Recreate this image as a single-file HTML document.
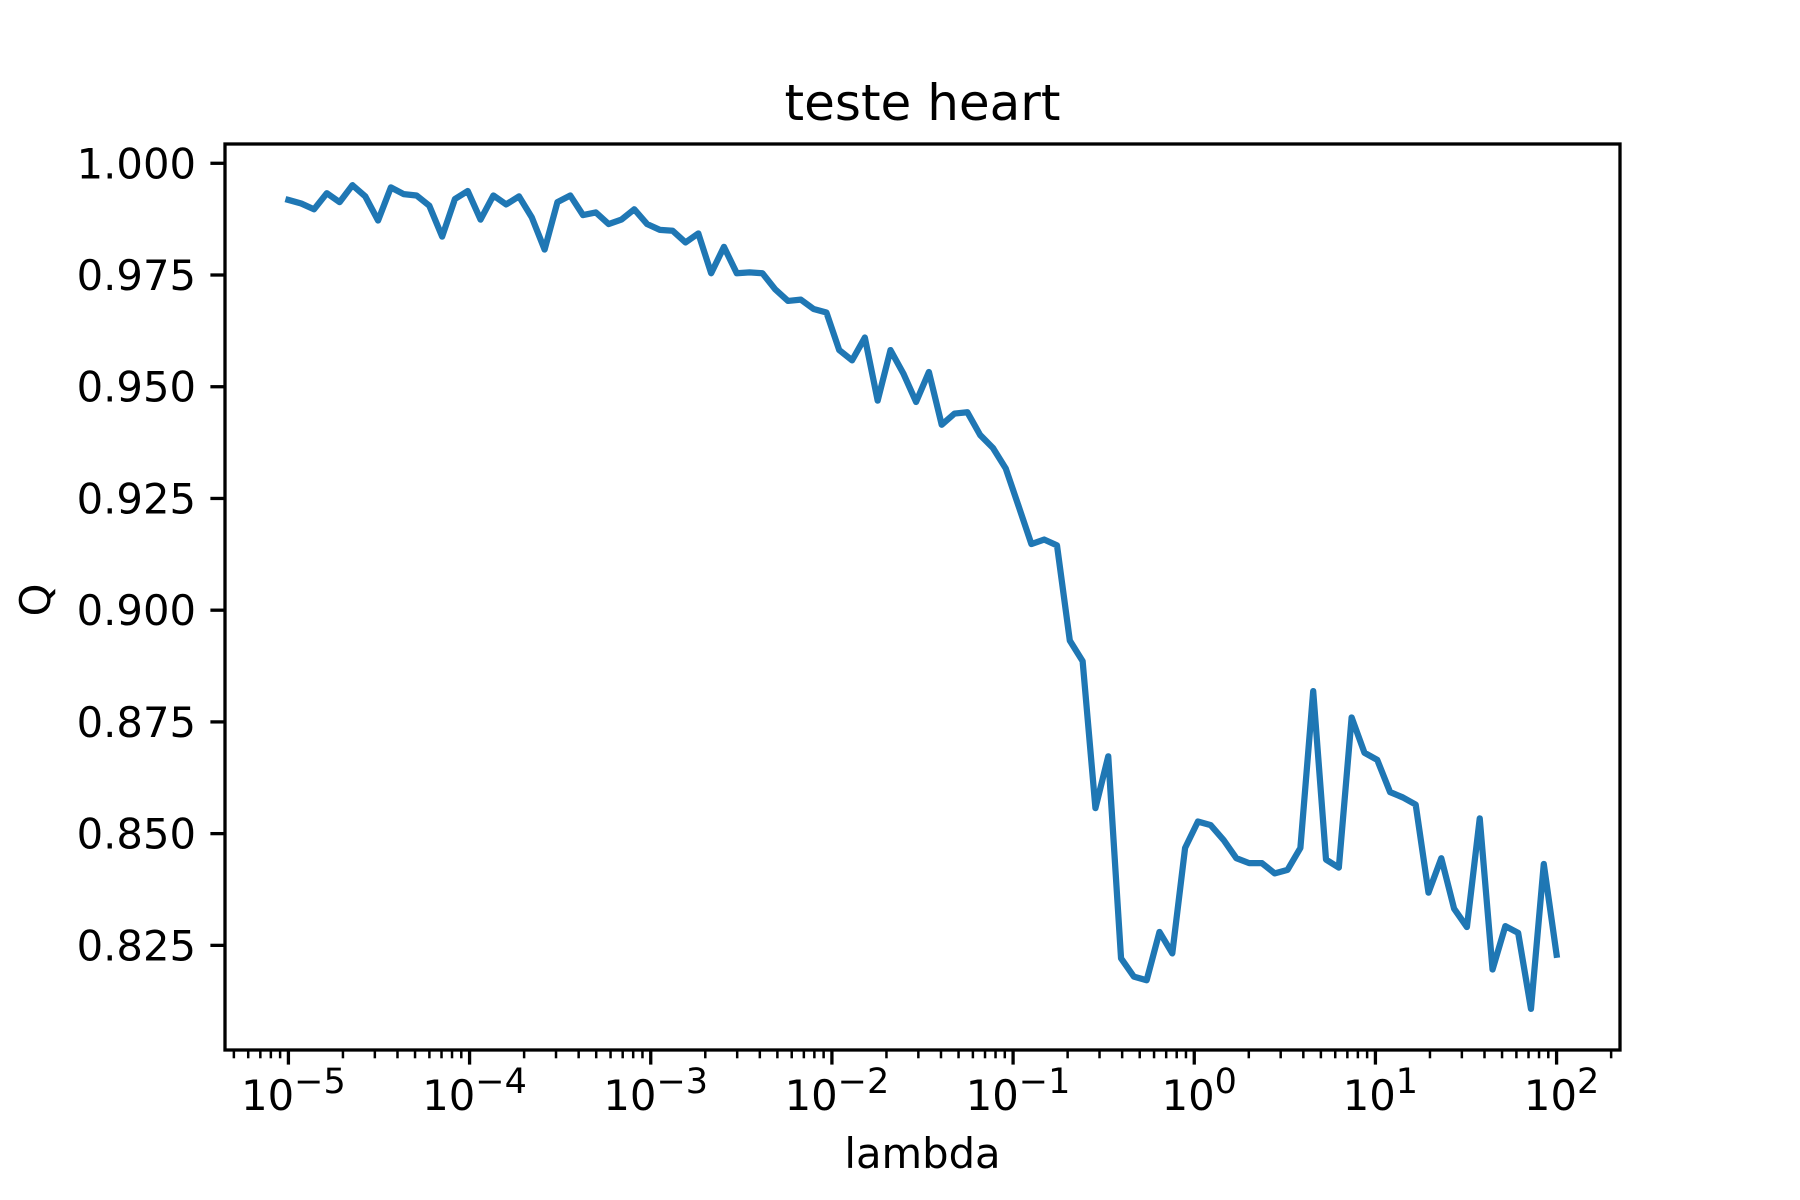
<!DOCTYPE html>
<html><head><meta charset="utf-8"><style>
html,body{margin:0;padding:0;background:#fff}
svg{display:block;font-family:"DejaVu Sans","Liberation Sans",sans-serif}
</style></head><body>
<svg id="chart" width="1800" height="1200" viewBox="0 0 1800 1200">
<rect width="1800" height="1200" fill="#fff"/>
<text x="922.5" y="120" font-size="50" text-anchor="middle">teste heart</text>
<g id="ticks"></g>
<path id="series" fill="none" stroke="#1f77b4" stroke-width="6.25" stroke-linejoin="round" stroke-linecap="square"/>
<rect x="225" y="144" width="1395" height="906" fill="none" stroke="#000" stroke-width="3.3"/>
<text x="922.5" y="1168" font-size="41.7" text-anchor="middle">lambda</text>
<text transform="translate(50,600) rotate(-90)" font-size="41.7" text-anchor="middle">Q</text>
</svg>
<script>
const qValues = [0.9918,0.9910,0.9897,0.9933,0.9913,0.9951,0.9926,0.9872,0.9946,0.9931,
0.9928,0.9905,0.9836,0.9920,0.9938,0.9874,0.9928,0.9908,0.9926,0.9879,
0.9807,0.9913,0.9928,0.9884,0.9890,0.9864,0.9874,0.9897,0.9864,0.9851,
0.9849,0.9823,0.9843,0.9754,0.9813,0.9754,0.9756,0.9754,0.9718,0.9692,
0.9695,0.9674,0.9666,0.9582,0.9559,0.9610,0.9469,0.9582,0.9530,0.9466,
0.9533,0.9415,0.9440,0.9443,0.9392,0.9363,0.9317,0.9233,0.9148,0.9158,
0.9145,0.8932,0.8886,0.8557,0.8673,0.8221,0.8180,0.8172,0.8280,0.8232,
0.8468,0.8527,0.8519,0.8486,0.8445,0.8434,0.8434,0.8411,0.8419,0.8468,
0.8819,0.8442,0.8424,0.8760,0.8681,0.8665,0.8593,0.8581,0.8565,0.8368,
0.8445,0.8332,0.8291,0.8534,0.8196,0.8293,0.8278,0.8108,0.8432,0.8229];
const lambdaMinExp = -5;
const lambdaMaxExp = 2;
const yTickValues = [1.000,0.975,0.950,0.925,0.900,0.875,0.850,0.825];
const yTickLabels = ["1.000","0.975","0.950","0.925","0.900","0.875","0.850","0.825"];
const xTickExps = [-5,-4,-3,-2,-1,0,1,2];
const xTickLabels = ["\u22125","\u22124","\u22123","\u22122","\u22121","0","1","2"];

const L=225,R=1620,T=144,B=1050;
const n=qValues.length;
const lambdas=qValues.map((_,i)=>Math.pow(10,lambdaMinExp+(lambdaMaxExp-lambdaMinExp)*i/(n-1)));
const lx=lambdas.map(Math.log10);
const xr=lambdaMaxExp-lambdaMinExp;
const x0=lambdaMinExp-0.05*xr, x1=lambdaMaxExp+0.05*xr;
const qmin=Math.min(...qValues), qmax=Math.max(...qValues), qr=qmax-qmin;
const y0=qmin-0.05*qr, y1=qmax+0.05*qr;
const X=e=>L+(e-x0)/(x1-x0)*(R-L);
const Y=v=>B-(v-y0)/(y1-y0)*(B-T);
const NS="http://www.w3.org/2000/svg";
const path=document.getElementById('series');
path.setAttribute('d',qValues.map((v,i)=>(i?'L':'M')+X(lx[i]).toFixed(2)+' '+Y(v).toFixed(2)).join(' '));
const g=document.getElementById('ticks');
function line(x1_,y1_,x2_,y2_,w){const l=document.createElementNS(NS,'line');
l.setAttribute('x1',x1_);l.setAttribute('y1',y1_);l.setAttribute('x2',x2_);l.setAttribute('y2',y2_);
l.setAttribute('stroke','#000');l.setAttribute('stroke-width',w);g.appendChild(l);return l;}
yTickValues.forEach((v,i)=>{const y=Y(v);
 const l=line(L-14.6,y,L,y,3.3);
 
 
 const t=document.createElementNS(NS,'text');t.setAttribute('x',L-29);t.setAttribute('y',y+15);
 t.setAttribute('font-size','41.7');t.setAttribute('text-anchor','end');t.textContent=yTickLabels[i];
 
 
 g.appendChild(t);});
for(let d=-6;d<=2;d++){for(let m=2;m<=9;m++){const e=d+Math.log10(m);if(e<x0||e>x1)continue;
 const l=line(X(e),B,X(e),B+8.3,2.5);
 
 }}
xTickExps.forEach((e,i)=>{const x=X(e);
 const l=line(x,B,x,B+14.6,3.3);
 
 
 const t=document.createElementNS(NS,'text');t.setAttribute('x',x+5);t.setAttribute('y',1110);
 t.setAttribute('font-size','41.7');t.setAttribute('text-anchor','middle');
 
 
 const a=document.createElementNS(NS,'tspan');a.textContent='10';
 const b=document.createElementNS(NS,'tspan');b.textContent=xTickLabels[i];b.setAttribute('font-size','35');b.setAttribute('dy','-17');
 t.appendChild(a);t.appendChild(b);g.appendChild(t);});
</script>
</body></html>
